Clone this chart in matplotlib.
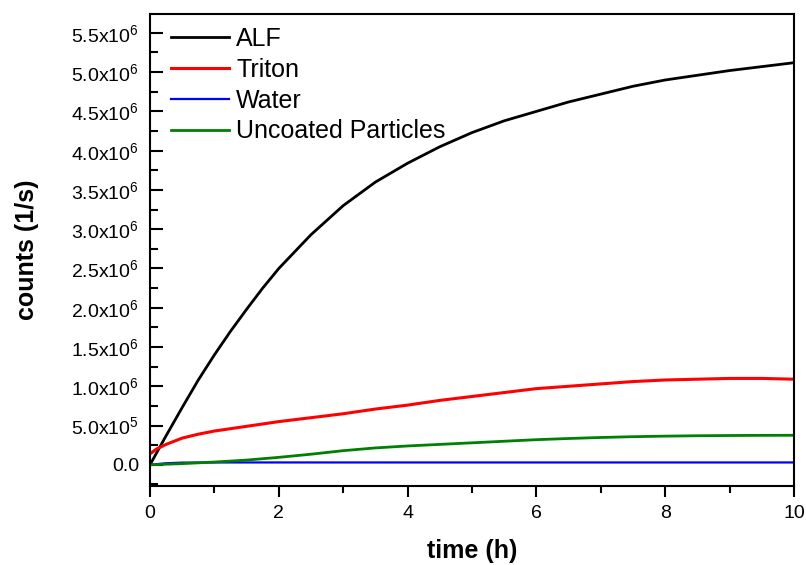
import numpy as np
import matplotlib
matplotlib.use("Agg")
import matplotlib.pyplot as plt
from matplotlib.ticker import FuncFormatter, MultipleLocator

plt.rcParams['font.family'] = ['Liberation Sans', 'DejaVu Sans']
plt.rcParams['mathtext.default'] = 'regular'

# values (time in h, counts in 1/s)
t_alf = [0, 0.25, 0.5, 0.75, 1, 1.25, 1.5, 1.75, 2, 2.5, 3, 3.5, 4, 4.5, 5, 5.5, 6, 6.5, 7, 7.5, 8, 8.5, 9, 9.5, 10]
alf = [0, 0.37e6, 0.73e6, 1.08e6, 1.4e6, 1.7e6, 1.98e6, 2.25e6, 2.5e6, 2.93e6, 3.3e6, 3.6e6, 3.84e6, 4.05e6,
       4.23e6, 4.38e6, 4.5e6, 4.62e6, 4.72e6, 4.82e6, 4.9e6, 4.96e6, 5.02e6, 5.07e6, 5.12e6]

t_triton = [0, 0.1, 0.25, 0.5, 0.75, 1, 1.5, 2, 2.5, 3, 3.5, 4, 4.5, 5, 5.5, 6, 6.5, 7, 7.5, 8, 8.5, 9, 9.5, 10]
triton = [1.4e5, 2.0e5, 2.6e5, 3.4e5, 3.9e5, 4.3e5, 4.9e5, 5.5e5, 6.0e5, 6.5e5, 7.1e5, 7.6e5, 8.2e5, 8.7e5,
          9.2e5, 9.7e5, 1.0e6, 1.03e6, 1.06e6, 1.08e6, 1.09e6, 1.1e6, 1.1e6, 1.09e6]

t_water = [0, 0.25, 0.5, 1, 2, 3, 4, 5, 6, 7, 8, 9, 10]
water = [0, 2e4, 2.8e4, 3e4, 3e4, 3e4, 3e4, 3e4, 3e4, 3e4, 3e4, 3e4, 3e4]

t_unc = [0, 0.5, 1, 1.5, 2, 2.5, 3, 3.5, 4, 4.5, 5, 5.5, 6, 6.5, 7, 7.5, 8, 8.5, 9, 9.5, 10]
uncoated = [0, 1.5e4, 3.5e4, 6e4, 9.5e4, 1.35e5, 1.8e5, 2.15e5, 2.4e5, 2.6e5, 2.8e5, 3.0e5, 3.2e5, 3.35e5,
            3.48e5, 3.58e5, 3.65e5, 3.7e5, 3.73e5, 3.75e5, 3.76e5]

fig = plt.figure(figsize=(8.06, 5.65), dpi=100)
ax = fig.add_axes([0.1861, 0.1398, 0.7990, 0.8354])

ax.plot(t_alf, alf, color='black', lw=2, label='ALF')
ax.plot(t_triton, triton, color='#ff0000', lw=2.2, label='Triton')
ax.plot(t_water, water, color='#0000ff', lw=1.6, label='Water')
ax.plot(t_unc, uncoated, color='#008000', lw=2, label='Uncoated Particles')

ax.set_xlim(0, 10)
ax.set_ylim(-2.7e5, 5.74e6)
ax.xaxis.set_major_locator(MultipleLocator(2))
ax.xaxis.set_minor_locator(MultipleLocator(1))
ax.yaxis.set_major_locator(MultipleLocator(5e5))
ax.yaxis.set_minor_locator(MultipleLocator(2.5e5))


def sci(v, pos):
    if abs(v) < 1:
        return '0.0'
    e = int(np.floor(np.log10(abs(v))))
    m = v / 10 ** e
    return '%.1fx10$^{%d}$' % (m, e)


ax.yaxis.set_major_formatter(FuncFormatter(sci))
ax.tick_params(axis='x', which='major', direction='out', length=8, width=1.5, labelsize=14, pad=6)
ax.tick_params(axis='x', which='minor', direction='out', length=5, width=1.5)
ax.tick_params(axis='y', which='major', direction='in', length=9, width=1.5, labelsize=14, pad=8)
ax.tick_params(axis='y', which='minor', direction='in', length=6, width=1.5)
for s in ax.spines.values():
    s.set_linewidth(1.5)

ax.set_xlabel('time (h)', fontsize=18, fontweight='bold', labelpad=12)
ax.set_ylabel('counts (1/s)', fontsize=18, fontweight='bold', labelpad=8)
ax.yaxis.set_label_coords(-0.173, 0.5)

ax.legend(loc='upper left', frameon=False, fontsize=18, handlelength=2.3, handletextpad=0.3,
          labelspacing=0.27, borderaxespad=0, borderpad=0, bbox_to_anchor=(0.033, 0.972))

fig.savefig('out.png', dpi=100)
